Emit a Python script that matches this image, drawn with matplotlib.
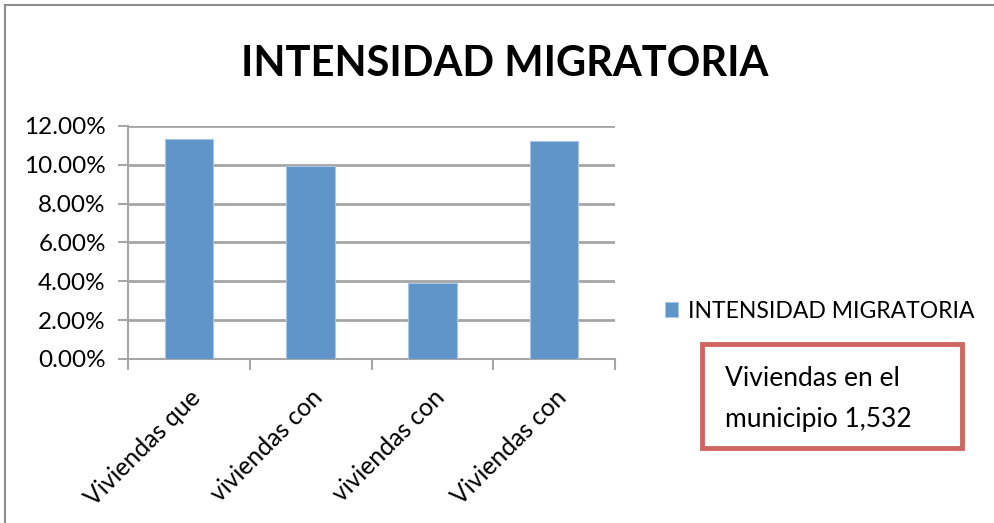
import numpy as np
import matplotlib.pyplot as plt
from matplotlib.patches import Rectangle
from matplotlib.ticker import FuncFormatter

plt.rcParams['font.family'] = ['Lato', 'DejaVu Sans']

# data
categorias = ['Viviendas que', 'viviendas con', 'viviendas con', 'Viviendas con']
intensidad = [0.1131, 0.0995, 0.0391, 0.1121]
titulo = 'INTENSIDAD MIGRATORIA'
nota = 'Viviendas en el\nmunicipio 1,532'

azul = '#5f95c9'
gris = '#a6a6a6'

fig = plt.figure(figsize=(9.94, 5.23), dpi=100)
ax = fig.add_axes([0.1288, 0.3136, 0.4899, 0.4455])

x = np.arange(len(categorias))
ax.bar(x, intensidad, width=0.4, color=azul, edgecolor='#a9c4e4',
       linewidth=0.8, label=titulo, zorder=3)

ax.set_xlim(-0.5, len(categorias) - 0.5)
ax.set_ylim(0, 0.12)
ax.set_yticks(np.arange(0, 0.121, 0.02))
ax.yaxis.set_major_formatter(FuncFormatter(lambda v, p: f'{v*100:.2f}%'))
ax.grid(axis='y', color=gris, linewidth=2, zorder=0)

ax.set_xticks(x)
ax.set_xticklabels(categorias, rotation=45, ha='right', rotation_mode='anchor',
                   fontsize=17.8)
ax.set_xticks(np.arange(-0.5, len(categorias), 1), minor=True)
ax.tick_params(axis='x', which='major', length=0, pad=19)
ax.tick_params(axis='x', which='minor', length=8, width=1.5, color=gris)
ax.tick_params(axis='y', length=7, width=1.5, color=gris, labelsize=17.5, pad=9)

for s in ['top', 'right']:
    ax.spines[s].set_visible(False)
ax.spines['left'].set_color(gris)
ax.spines['left'].set_linewidth(1.5)
ax.spines['bottom'].set_color(gris)
ax.spines['bottom'].set_linewidth(1.5)

fig.text(0.508, 0.877, titulo, ha='center', va='center', fontsize=30,
         fontweight='bold')

leg = fig.legend(loc='center left', bbox_to_anchor=(0.648, 0.405), frameon=False,
                 fontsize=16.5, handlelength=0.6, handleheight=0.6,
                 handletextpad=0.4)

# cuadro de nota
fig.patches.append(Rectangle((702 / 994, 1 - 448 / 523), 260 / 994, 104 / 523,
                             transform=fig.transFigure, fill=False,
                             edgecolor='#cf6660', linewidth=3.5))
fig.text(725 / 994, 1 - 399 / 523, nota, ha='left', va='center', fontsize=19,
         linespacing=1.75)

# borde del grafico
fig.patches.append(Rectangle((5 / 994, -0.05), 1.1, 1 - 5 / 523 + 0.05,
                             transform=fig.transFigure, fill=False,
                             edgecolor='#8c8c8c', linewidth=1.5))

fig.savefig('out.png', dpi=100)
